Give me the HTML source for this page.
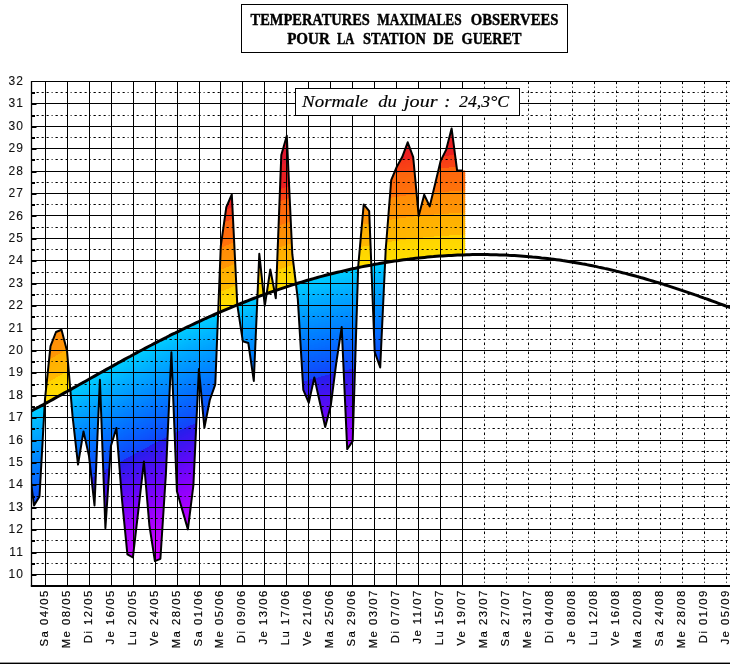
<!DOCTYPE html>
<html><head><meta charset="utf-8"><title>Temperatures maximales observees - Gueret</title>
<style>html,body{margin:0;padding:0;background:#fff}body{width:730px;height:664px;overflow:hidden}svg{display:block}.ax{font-family:"Liberation Sans",sans-serif;font-size:12px;letter-spacing:1.1px;fill:#111;stroke:#111;stroke-width:0.1px}.xl{font-family:"Liberation Sans",sans-serif;font-size:11.3px;letter-spacing:1.5px;fill:#000;stroke:#000;stroke-width:0.2px}.tt{font-family:"Liberation Serif",serif;font-weight:bold;font-size:17px;fill:#000;stroke:#000;stroke-width:0.45px}.nm{font-family:"Liberation Serif",serif;font-style:italic;font-size:16.5px;fill:#000;stroke:#000;stroke-width:0.15px}</style></head><body>
<svg width="730" height="664" viewBox="0 0 730 664">
<rect width="730" height="664" fill="#fff"/>
<defs><polygon id="b" points="26,413.7 32,410.6 38,407.4 44,404.2 50,401 56,397.7 62,394.3 68,391 74,387.6 80,384.3 86,380.9 92,377.5 98,374.1 104,370.8 110,367.4 116,364.1 122,360.8 128,357.5 134,354.3 140,351.1 146,347.9 152,344.7 158,341.6 164,338.5 170,335.5 176,332.5 182,329.6 188,326.7 194,323.8 200,321 206,318.3 212,315.6 218,313 224,310.4 230,307.9 236,305.4 242,303 248,300.6 254,298.3 260,296.1 266,293.9 272,291.7 278,289.7 284,287.7 290,285.7 296,283.8 302,282 308,280.2 314,278.5 320,276.8 326,275.2 332,273.7 338,272.2 344,270.7 350,269.4 356,268.1 362,266.8 368,265.6 374,264.5 380,263.4 386,262.4 392,261.5 398,260.6 404,259.8 410,259 416,258.3 422,257.6 428,257.1 434,256.5 440,256.1 446,255.7 452,255.3 458,255.1 464,254.8 470,254.7 470,257.7 464,257.8 458,258.1 452,258.3 446,258.7 440,259.1 434,259.5 428,260.1 422,260.6 416,261.3 410,262 404,262.8 398,263.6 392,264.5 386,265.4 380,266.4 374,267.5 368,268.6 362,269.8 356,271.1 350,272.4 344,273.7 338,275.2 332,276.7 326,278.2 320,279.8 314,281.5 308,283.2 302,285 296,286.8 290,288.7 284,290.7 278,292.7 272,294.7 266,296.9 260,299.1 254,301.3 248,303.6 242,306 236,308.4 230,310.9 224,313.4 218,316 212,318.6 206,321.3 200,324 194,326.8 188,329.7 182,332.6 176,335.5 170,338.5 164,341.5 158,344.6 152,347.7 146,350.9 140,354.1 134,357.3 128,360.5 122,363.8 116,367.1 110,370.4 104,373.8 98,377.1 92,380.5 86,383.9 80,387.3 74,390.6 68,394 62,397.3 56,400.7 50,404 44,407.2 38,410.4 32,413.6 26,416.7"/>
<clipPath id="cf"><polygon points="28.5,462.8 34,505.4 39.5,496.5 45,398.9 50.5,346.2 56,332 61.5,329.8 67,350.7 72.5,415.7 78,464.6 83.5,431.4 89,456.1 94.5,505.4 99.9,379.8 105.4,528.1 110.9,446 116.4,428 121.9,498.7 127.4,554.3 132.9,557.5 138.4,509.9 143.9,461.5 149.4,525.6 154.9,561.1 160.4,558.8 165.9,474 171.4,352.2 176.9,491.3 182.4,510.4 187.9,529.4 193.4,485.2 198.9,369.1 204.4,427.8 209.8,400 215.3,384.3 220.8,245.9 226.3,207.1 231.8,194.5 237.3,304.9 242.8,341.2 248.3,343 253.8,380.9 259.3,253.8 264.8,305.8 270.3,269.5 275.8,298.2 281.3,155.1 286.8,135.8 292.3,254.2 297.8,299.1 303.3,389.9 308.8,402.9 314.3,377.4 319.8,402.2 325.2,427.1 330.7,406.1 336.2,363.4 341.7,327.1 347.2,449.1 352.7,441.1 358.2,266.5 363.7,204.4 369.2,211.1 374.7,352 380.2,367.5 385.7,249.7 391.2,180.2 396.7,167 402.2,157.1 407.7,142.3 413.2,157.1 418.7,216.1 424.2,194.8 429.7,206.4 435.1,184 440.6,160.9 446.1,149.9 451.6,128.4 457.1,170.5 462.6,170.5 465.2,170.5 465.2,254.8 461.2,254.9 457.2,255.1 453.2,255.3 449.2,255.5 445.2,255.7 441.2,256 437.2,256.3 433.2,256.6 429.2,256.9 425.2,257.3 421.2,257.7 417.2,258.2 413.2,258.6 409.2,259.1 405.2,259.6 401.2,260.1 397.2,260.7 393.2,261.3 389.2,261.9 385.2,262.6 381.2,263.2 377.2,263.9 373.2,264.7 369.2,265.4 365.2,266.2 361.2,267 357.2,267.8 353.2,268.7 349.2,269.6 345.2,270.5 341.2,271.4 337.2,272.4 333.2,273.4 329.2,274.4 325.2,275.4 321.2,276.5 317.2,277.6 313.2,278.7 309.2,279.8 305.2,281 301.2,282.2 297.2,283.4 293.2,284.7 289.2,286 285.2,287.3 281.2,288.6 277.2,289.9 273.2,291.3 269.2,292.7 265.2,294.2 261.2,295.6 257.2,297.1 253.2,298.6 249.2,300.1 245.2,301.7 241.2,303.3 237.2,304.9 233.2,306.5 229.2,308.2 225.2,309.9 221.2,311.6 217.2,313.3 213.2,315.1 209.2,316.9 205.2,318.7 201.2,320.5 197.2,322.3 193.2,324.2 189.2,326.1 185.2,328 181.2,330 177.2,331.9 173.2,333.9 169.2,335.9 165.2,337.9 161.2,340 157.2,342 153.2,344.1 149.2,346.2 145.2,348.3 141.2,350.4 137.2,352.6 133.2,354.7 129.2,356.9 125.2,359.1 121.2,361.2 117.2,363.5 113.2,365.7 109.2,367.9 105.2,370.1 101.2,372.4 97.2,374.6 93.2,376.8 89.2,379.1 85.2,381.3 81.2,383.6 77.2,385.8 73.2,388.1 69.2,390.3 65.2,392.6 61.2,394.8 57.2,397 53.2,399.2 49.2,401.4 45.2,403.6 41.2,405.7 37.2,407.9 33.2,410 29.2,412.1 25.2,414.1"/></clipPath>
<clipPath id="cp"><rect x="31.5" y="81.5" width="698.5" height="504.27"/></clipPath></defs>
<g clip-path="url(#cp)"><g clip-path="url(#cf)" shape-rendering="crispEdges">
<use href="#b" y="-170" fill="#d30e3b"/>
<use href="#b" y="-168" fill="#d30e3b"/>
<use href="#b" y="-166" fill="#d30e3b"/>
<use href="#b" y="-164" fill="#d30f3b"/>
<use href="#b" y="-162" fill="#d30f3b"/>
<use href="#b" y="-160" fill="#d30f3b"/>
<use href="#b" y="-158" fill="#d30f3b"/>
<use href="#b" y="-156" fill="#d30f3b"/>
<use href="#b" y="-154" fill="#d40f3a"/>
<use href="#b" y="-152" fill="#d40f3a"/>
<use href="#b" y="-150" fill="#d40f3a"/>
<use href="#b" y="-148" fill="#d40f3a"/>
<use href="#b" y="-146" fill="#dd1631"/>
<use href="#b" y="-144" fill="#de1630"/>
<use href="#b" y="-142" fill="#de1730"/>
<use href="#b" y="-140" fill="#de1730"/>
<use href="#b" y="-138" fill="#df172f"/>
<use href="#b" y="-136" fill="#df172f"/>
<use href="#b" y="-134" fill="#df182f"/>
<use href="#b" y="-132" fill="#e0182e"/>
<use href="#b" y="-130" fill="#e0182e"/>
<use href="#b" y="-128" fill="#e0192e"/>
<use href="#b" y="-126" fill="#e1192d"/>
<use href="#b" y="-124" fill="#e91e24"/>
<use href="#b" y="-122" fill="#e91e24"/>
<use href="#b" y="-120" fill="#e91e23"/>
<use href="#b" y="-118" fill="#ea1e23"/>
<use href="#b" y="-116" fill="#ea1f23"/>
<use href="#b" y="-114" fill="#ea1f22"/>
<use href="#b" y="-112" fill="#ea1f22"/>
<use href="#b" y="-110" fill="#eb1f22"/>
<use href="#b" y="-108" fill="#eb1f21"/>
<use href="#b" y="-106" fill="#eb2021"/>
<use href="#b" y="-104" fill="#ec2021"/>
<use href="#b" y="-102" fill="#ec2020"/>
<use href="#b" y="-100" fill="#f63a17"/>
<use href="#b" y="-98" fill="#f73c17"/>
<use href="#b" y="-96" fill="#f83e16"/>
<use href="#b" y="-94" fill="#f84015"/>
<use href="#b" y="-92" fill="#f94215"/>
<use href="#b" y="-90" fill="#fa4414"/>
<use href="#b" y="-88" fill="#fe650d"/>
<use href="#b" y="-86" fill="#fe660d"/>
<use href="#b" y="-84" fill="#fe670c"/>
<use href="#b" y="-82" fill="#fe690c"/>
<use href="#b" y="-80" fill="#fe6a0c"/>
<use href="#b" y="-78" fill="#fe6b0c"/>
<use href="#b" y="-76" fill="#fe6c0b"/>
<use href="#b" y="-74" fill="#fe6d0b"/>
<use href="#b" y="-72" fill="#ff6e0b"/>
<use href="#b" y="-70" fill="#ff700b"/>
<use href="#b" y="-68" fill="#ff710a"/>
<use href="#b" y="-66" fill="#ff720a"/>
<use href="#b" y="-64" fill="#ff8c06"/>
<use href="#b" y="-62" fill="#ff8d06"/>
<use href="#b" y="-60" fill="#ff8e06"/>
<use href="#b" y="-58" fill="#ff8f06"/>
<use href="#b" y="-56" fill="#ff9006"/>
<use href="#b" y="-54" fill="#ff9106"/>
<use href="#b" y="-52" fill="#ff9206"/>
<use href="#b" y="-50" fill="#ff9305"/>
<use href="#b" y="-48" fill="#ff9405"/>
<use href="#b" y="-46" fill="#ff9505"/>
<use href="#b" y="-44" fill="#ff9605"/>
<use href="#b" y="-42" fill="#ffaf01"/>
<use href="#b" y="-40" fill="#ffaf01"/>
<use href="#b" y="-38" fill="#ffb001"/>
<use href="#b" y="-36" fill="#ffb101"/>
<use href="#b" y="-34" fill="#ffb201"/>
<use href="#b" y="-32" fill="#ffb301"/>
<use href="#b" y="-30" fill="#ffb401"/>
<use href="#b" y="-28" fill="#ffb500"/>
<use href="#b" y="-26" fill="#ffb600"/>
<use href="#b" y="-24" fill="#ffb700"/>
<use href="#b" y="-22" fill="#ffb800"/>
<use href="#b" y="-20" fill="#ffd300"/>
<use href="#b" y="-18" fill="#ffd400"/>
<use href="#b" y="-16" fill="#ffd600"/>
<use href="#b" y="-14" fill="#ffd700"/>
<use href="#b" y="-12" fill="#ffd800"/>
<use href="#b" y="-10" fill="#ffd900"/>
<use href="#b" y="-8" fill="#ffda00"/>
<use href="#b" y="-6" fill="#ffdb00"/>
<use href="#b" y="-4" fill="#ffdc00"/>
<use href="#b" y="-2" fill="#ffdd00"/>
<use href="#b" y="0" fill="#00ccff"/>
<use href="#b" y="2" fill="#00c9ff"/>
<use href="#b" y="4" fill="#00c6ff"/>
<use href="#b" y="6" fill="#00c3ff"/>
<use href="#b" y="8" fill="#00c0ff"/>
<use href="#b" y="10" fill="#00bdff"/>
<use href="#b" y="12" fill="#00baff"/>
<use href="#b" y="14" fill="#00b7ff"/>
<use href="#b" y="16" fill="#00b4ff"/>
<use href="#b" y="18" fill="#00b1ff"/>
<use href="#b" y="20" fill="#00aeff"/>
<use href="#b" y="22" fill="#00abff"/>
<use href="#b" y="24" fill="#00a9ff"/>
<use href="#b" y="26" fill="#00a6ff"/>
<use href="#b" y="28" fill="#00a3ff"/>
<use href="#b" y="30" fill="#00a1ff"/>
<use href="#b" y="32" fill="#009eff"/>
<use href="#b" y="34" fill="#009bff"/>
<use href="#b" y="36" fill="#0098ff"/>
<use href="#b" y="38" fill="#0096ff"/>
<use href="#b" y="40" fill="#0093ff"/>
<use href="#b" y="42" fill="#0090ff"/>
<use href="#b" y="44" fill="#008eff"/>
<use href="#b" y="46" fill="#008bff"/>
<use href="#b" y="48" fill="#0188ff"/>
<use href="#b" y="50" fill="#0186ff"/>
<use href="#b" y="52" fill="#0183ff"/>
<use href="#b" y="54" fill="#0180ff"/>
<use href="#b" y="56" fill="#027eff"/>
<use href="#b" y="58" fill="#027bff"/>
<use href="#b" y="60" fill="#0278ff"/>
<use href="#b" y="62" fill="#0276ff"/>
<use href="#b" y="64" fill="#0373ff"/>
<use href="#b" y="66" fill="#0370ff"/>
<use href="#b" y="68" fill="#046eff"/>
<use href="#b" y="70" fill="#056bfe"/>
<use href="#b" y="72" fill="#0568fe"/>
<use href="#b" y="74" fill="#0666fe"/>
<use href="#b" y="76" fill="#0763fe"/>
<use href="#b" y="78" fill="#0860fd"/>
<use href="#b" y="80" fill="#095efd"/>
<use href="#b" y="82" fill="#095bfd"/>
<use href="#b" y="84" fill="#0a58fd"/>
<use href="#b" y="86" fill="#0b56fc"/>
<use href="#b" y="88" fill="#0c53fc"/>
<use href="#b" y="90" fill="#0d50fc"/>
<use href="#b" y="92" fill="#0e4dfb"/>
<use href="#b" y="94" fill="#104afb"/>
<use href="#b" y="96" fill="#1148fb"/>
<use href="#b" y="98" fill="#1345fa"/>
<use href="#b" y="100" fill="#261eec"/>
<use href="#b" y="102" fill="#2a1ded"/>
<use href="#b" y="104" fill="#2d1bed"/>
<use href="#b" y="106" fill="#301aee"/>
<use href="#b" y="108" fill="#3419ef"/>
<use href="#b" y="110" fill="#3717f0"/>
<use href="#b" y="112" fill="#3b16f0"/>
<use href="#b" y="114" fill="#3e15f1"/>
<use href="#b" y="116" fill="#4113f2"/>
<use href="#b" y="118" fill="#4512f2"/>
<use href="#b" y="120" fill="#4811f3"/>
<use href="#b" y="122" fill="#4c10f4"/>
<use href="#b" y="124" fill="#4f0ef5"/>
<use href="#b" y="126" fill="#520df5"/>
<use href="#b" y="128" fill="#560cf6"/>
<use href="#b" y="130" fill="#590af7"/>
<use href="#b" y="132" fill="#5d09f7"/>
<use href="#b" y="134" fill="#6008f8"/>
<use href="#b" y="136" fill="#6407f8"/>
<use href="#b" y="138" fill="#6706f9"/>
<use href="#b" y="140" fill="#6b06f9"/>
<use href="#b" y="142" fill="#6e05fa"/>
<use href="#b" y="144" fill="#7204fa"/>
<use href="#b" y="146" fill="#7504fa"/>
<use href="#b" y="148" fill="#7903fb"/>
<use href="#b" y="150" fill="#7c02fb"/>
<use href="#b" y="152" fill="#8001fb"/>
<use href="#b" y="154" fill="#8401fc"/>
<use href="#b" y="156" fill="#8700fc"/>
<use href="#b" y="158" fill="#8a00fc"/>
<use href="#b" y="160" fill="#8d00fd"/>
<use href="#b" y="162" fill="#9000fd"/>
<use href="#b" y="164" fill="#9300fd"/>
<use href="#b" y="166" fill="#9600fd"/>
<use href="#b" y="168" fill="#9900fe"/>
<use href="#b" y="170" fill="#9c00fe"/>
<use href="#b" y="172" fill="#9f00fe"/>
<use href="#b" y="174" fill="#a200fe"/>
<use href="#b" y="176" fill="#a500ff"/>
<use href="#b" y="178" fill="#a800ff"/>
<use href="#b" y="180" fill="#aa00ff"/>
<use href="#b" y="182" fill="#ad00ff"/>
<use href="#b" y="184" fill="#b000ff"/>
<use href="#b" y="186" fill="#b200ff"/>
<use href="#b" y="188" fill="#b500ff"/>
<use href="#b" y="190" fill="#b800ff"/>
<use href="#b" y="192" fill="#ba00ff"/>
<use href="#b" y="194" fill="#bd00ff"/>
<use href="#b" y="196" fill="#c000ff"/>
<use href="#b" y="198" fill="#c200ff"/>
<use href="#b" y="200" fill="#c500ff"/>
<use href="#b" y="202" fill="#c700ff"/>
<use href="#b" y="204" fill="#c900ff"/>
<use href="#b" y="206" fill="#cb00ff"/>
<use href="#b" y="208" fill="#cd00ff"/>
<use href="#b" y="210" fill="#ce00ff"/>
<use href="#b" y="212" fill="#d000ff"/>
<use href="#b" y="214" fill="#d200ff"/>
<use href="#b" y="216" fill="#d400ff"/>
<use href="#b" y="218" fill="#d500ff"/>
<use href="#b" y="220" fill="#d700ff"/>
<use href="#b" y="222" fill="#d900ff"/>
<use href="#b" y="224" fill="#da00ff"/>
<use href="#b" y="226" fill="#db00ff"/>
<use href="#b" y="228" fill="#dc00ff"/>
<use href="#b" y="230" fill="#dd00ff"/>
<use href="#b" y="232" fill="#de00ff"/>
<use href="#b" y="234" fill="#e000ff"/>
<use href="#b" y="236" fill="#e100ff"/>
<use href="#b" y="238" fill="#e200ff"/>
<use href="#b" y="240" fill="#e300ff"/>
<use href="#b" y="242" fill="#e400ff"/>
<use href="#b" y="244" fill="#e500ff"/>
<use href="#b" y="246" fill="#e600ff"/>
<use href="#b" y="248" fill="#e700ff"/>
<use href="#b" y="250" fill="#e800ff"/>
<use href="#b" y="252" fill="#e900ff"/>
<use href="#b" y="254" fill="#ea00ff"/>
<use href="#b" y="256" fill="#eb00ff"/>
<use href="#b" y="258" fill="#eb00ff"/>
</g></g>
<g><line x1="31.5" x2="730" y1="574.5" y2="574.5" stroke="#000" stroke-width="1"/><line x1="35.5" x2="730" y1="563.5" y2="563.5" stroke="#000" stroke-width="1" stroke-dasharray="2.3 2.8 2.1 2.9 2.1 2.9 1 2.9" stroke-dashoffset="-1"/><line x1="31.5" x2="730" y1="552.5" y2="552.5" stroke="#000" stroke-width="1"/><line x1="35.5" x2="730" y1="540.5" y2="540.5" stroke="#000" stroke-width="1" stroke-dasharray="2.3 2.8 2.1 2.9 2.1 2.9 1 2.9" stroke-dashoffset="-1"/><line x1="31.5" x2="730" y1="529.5" y2="529.5" stroke="#000" stroke-width="1"/><line x1="35.5" x2="730" y1="518.5" y2="518.5" stroke="#000" stroke-width="1" stroke-dasharray="2.3 2.8 2.1 2.9 2.1 2.9 1 2.9" stroke-dashoffset="-1"/><line x1="31.5" x2="730" y1="507.5" y2="507.5" stroke="#000" stroke-width="1"/><line x1="35.5" x2="730" y1="496.5" y2="496.5" stroke="#000" stroke-width="1" stroke-dasharray="2.3 2.8 2.1 2.9 2.1 2.9 1 2.9" stroke-dashoffset="-1"/><line x1="31.5" x2="730" y1="484.5" y2="484.5" stroke="#000" stroke-width="1"/><line x1="35.5" x2="730" y1="473.5" y2="473.5" stroke="#000" stroke-width="1" stroke-dasharray="2.3 2.8 2.1 2.9 2.1 2.9 1 2.9" stroke-dashoffset="-1"/><line x1="31.5" x2="730" y1="462.5" y2="462.5" stroke="#000" stroke-width="1"/><line x1="35.5" x2="730" y1="451.5" y2="451.5" stroke="#000" stroke-width="1" stroke-dasharray="2.3 2.8 2.1 2.9 2.1 2.9 1 2.9" stroke-dashoffset="-1"/><line x1="31.5" x2="730" y1="440.5" y2="440.5" stroke="#000" stroke-width="1"/><line x1="35.5" x2="730" y1="428.5" y2="428.5" stroke="#000" stroke-width="1" stroke-dasharray="2.3 2.8 2.1 2.9 2.1 2.9 1 2.9" stroke-dashoffset="-1"/><line x1="31.5" x2="730" y1="417.5" y2="417.5" stroke="#000" stroke-width="1"/><line x1="35.5" x2="730" y1="406.5" y2="406.5" stroke="#000" stroke-width="1" stroke-dasharray="2.3 2.8 2.1 2.9 2.1 2.9 1 2.9" stroke-dashoffset="-1"/><line x1="31.5" x2="730" y1="395.5" y2="395.5" stroke="#000" stroke-width="1"/><line x1="35.5" x2="730" y1="384.5" y2="384.5" stroke="#000" stroke-width="1" stroke-dasharray="2.3 2.8 2.1 2.9 2.1 2.9 1 2.9" stroke-dashoffset="-1"/><line x1="31.5" x2="730" y1="372.5" y2="372.5" stroke="#000" stroke-width="1"/><line x1="35.5" x2="730" y1="361.5" y2="361.5" stroke="#000" stroke-width="1" stroke-dasharray="2.3 2.8 2.1 2.9 2.1 2.9 1 2.9" stroke-dashoffset="-1"/><line x1="31.5" x2="730" y1="350.5" y2="350.5" stroke="#000" stroke-width="1"/><line x1="35.5" x2="730" y1="339.5" y2="339.5" stroke="#000" stroke-width="1" stroke-dasharray="2.3 2.8 2.1 2.9 2.1 2.9 1 2.9" stroke-dashoffset="-1"/><line x1="31.5" x2="730" y1="328.5" y2="328.5" stroke="#000" stroke-width="1"/><line x1="35.5" x2="730" y1="316.5" y2="316.5" stroke="#000" stroke-width="1" stroke-dasharray="2.3 2.8 2.1 2.9 2.1 2.9 1 2.9" stroke-dashoffset="-1"/><line x1="31.5" x2="730" y1="305.5" y2="305.5" stroke="#000" stroke-width="1"/><line x1="35.5" x2="730" y1="294.5" y2="294.5" stroke="#000" stroke-width="1" stroke-dasharray="2.3 2.8 2.1 2.9 2.1 2.9 1 2.9" stroke-dashoffset="-1"/><line x1="31.5" x2="730" y1="283.5" y2="283.5" stroke="#000" stroke-width="1"/><line x1="35.5" x2="730" y1="272.5" y2="272.5" stroke="#000" stroke-width="1" stroke-dasharray="2.3 2.8 2.1 2.9 2.1 2.9 1 2.9" stroke-dashoffset="-1"/><line x1="31.5" x2="730" y1="260.5" y2="260.5" stroke="#000" stroke-width="1"/><line x1="35.5" x2="730" y1="249.5" y2="249.5" stroke="#000" stroke-width="1" stroke-dasharray="2.3 2.8 2.1 2.9 2.1 2.9 1 2.9" stroke-dashoffset="-1"/><line x1="31.5" x2="730" y1="238.5" y2="238.5" stroke="#000" stroke-width="1"/><line x1="35.5" x2="730" y1="227.5" y2="227.5" stroke="#000" stroke-width="1" stroke-dasharray="2.3 2.8 2.1 2.9 2.1 2.9 1 2.9" stroke-dashoffset="-1"/><line x1="31.5" x2="730" y1="215.5" y2="215.5" stroke="#000" stroke-width="1"/><line x1="35.5" x2="730" y1="204.5" y2="204.5" stroke="#000" stroke-width="1" stroke-dasharray="2.3 2.8 2.1 2.9 2.1 2.9 1 2.9" stroke-dashoffset="-1"/><line x1="31.5" x2="730" y1="193.5" y2="193.5" stroke="#000" stroke-width="1"/><line x1="35.5" x2="730" y1="182.5" y2="182.5" stroke="#000" stroke-width="1" stroke-dasharray="2.3 2.8 2.1 2.9 2.1 2.9 1 2.9" stroke-dashoffset="-1"/><line x1="31.5" x2="730" y1="171.5" y2="171.5" stroke="#000" stroke-width="1"/><line x1="35.5" x2="730" y1="159.5" y2="159.5" stroke="#000" stroke-width="1" stroke-dasharray="2.3 2.8 2.1 2.9 2.1 2.9 1 2.9" stroke-dashoffset="-1"/><line x1="31.5" x2="730" y1="148.5" y2="148.5" stroke="#000" stroke-width="1"/><line x1="35.5" x2="730" y1="137.5" y2="137.5" stroke="#000" stroke-width="1" stroke-dasharray="2.3 2.8 2.1 2.9 2.1 2.9 1 2.9" stroke-dashoffset="-1"/><line x1="31.5" x2="730" y1="126.5" y2="126.5" stroke="#000" stroke-width="1"/><line x1="35.5" x2="730" y1="115.5" y2="115.5" stroke="#000" stroke-width="1" stroke-dasharray="2.3 2.8 2.1 2.9 2.1 2.9 1 2.9" stroke-dashoffset="-1"/><line x1="31.5" x2="730" y1="103.5" y2="103.5" stroke="#000" stroke-width="1"/><line x1="35.5" x2="730" y1="92.5" y2="92.5" stroke="#000" stroke-width="1" stroke-dasharray="2.3 2.8 2.1 2.9 2.1 2.9 1 2.9" stroke-dashoffset="-1"/><line x1="31.5" x2="730" y1="81.5" y2="81.5" stroke="#000" stroke-width="1"/><line x1="45.5" x2="45.5" y1="81.5" y2="585.8" stroke="#000" stroke-width="1"/><line x1="67.5" x2="67.5" y1="81.5" y2="585.8" stroke="#000" stroke-width="1"/><line x1="89.5" x2="89.5" y1="81.5" y2="585.8" stroke="#000" stroke-width="1"/><line x1="111.5" x2="111.5" y1="81.5" y2="585.8" stroke="#000" stroke-width="1"/><line x1="133.5" x2="133.5" y1="81.5" y2="585.8" stroke="#000" stroke-width="1"/><line x1="155.5" x2="155.5" y1="81.5" y2="585.8" stroke="#000" stroke-width="1"/><line x1="177.5" x2="177.5" y1="81.5" y2="585.8" stroke="#000" stroke-width="1"/><line x1="199.5" x2="199.5" y1="81.5" y2="585.8" stroke="#000" stroke-width="1"/><line x1="220.5" x2="220.5" y1="81.5" y2="585.8" stroke="#000" stroke-width="1"/><line x1="242.5" x2="242.5" y1="81.5" y2="585.8" stroke="#000" stroke-width="1"/><line x1="264.5" x2="264.5" y1="81.5" y2="585.8" stroke="#000" stroke-width="1"/><line x1="286.5" x2="286.5" y1="81.5" y2="585.8" stroke="#000" stroke-width="1"/><line x1="308.5" x2="308.5" y1="81.5" y2="585.8" stroke="#000" stroke-width="1"/><line x1="330.5" x2="330.5" y1="81.5" y2="585.8" stroke="#000" stroke-width="1"/><line x1="352.5" x2="352.5" y1="81.5" y2="585.8" stroke="#000" stroke-width="1"/><line x1="374.5" x2="374.5" y1="81.5" y2="585.8" stroke="#000" stroke-width="1"/><line x1="396.5" x2="396.5" y1="81.5" y2="585.8" stroke="#000" stroke-width="1"/><line x1="418.5" x2="418.5" y1="81.5" y2="585.8" stroke="#000" stroke-width="1"/><line x1="440.5" x2="440.5" y1="81.5" y2="585.8" stroke="#000" stroke-width="1"/><line x1="462.5" x2="462.5" y1="81.5" y2="585.8" stroke="#000" stroke-width="1"/><line x1="484.5" x2="484.5" y1="81.5" y2="585.8" stroke="#000" stroke-width="1" stroke-dasharray="2.6 2.6 1 2.8"/><line x1="506.5" x2="506.5" y1="81.5" y2="585.8" stroke="#000" stroke-width="1" stroke-dasharray="2.6 2.6 1 2.8"/><line x1="528.5" x2="528.5" y1="81.5" y2="585.8" stroke="#000" stroke-width="1" stroke-dasharray="2.6 2.6 1 2.8"/><line x1="550.5" x2="550.5" y1="81.5" y2="585.8" stroke="#000" stroke-width="1" stroke-dasharray="2.6 2.6 1 2.8"/><line x1="572.5" x2="572.5" y1="81.5" y2="585.8" stroke="#000" stroke-width="1" stroke-dasharray="2.6 2.6 1 2.8"/><line x1="594.5" x2="594.5" y1="81.5" y2="585.8" stroke="#000" stroke-width="1" stroke-dasharray="2.6 2.6 1 2.8"/><line x1="616.5" x2="616.5" y1="81.5" y2="585.8" stroke="#000" stroke-width="1" stroke-dasharray="2.6 2.6 1 2.8"/><line x1="638.5" x2="638.5" y1="81.5" y2="585.8" stroke="#000" stroke-width="1" stroke-dasharray="2.6 2.6 1 2.8"/><line x1="660.5" x2="660.5" y1="81.5" y2="585.8" stroke="#000" stroke-width="1" stroke-dasharray="2.6 2.6 1 2.8"/><line x1="682.5" x2="682.5" y1="81.5" y2="585.8" stroke="#000" stroke-width="1" stroke-dasharray="2.6 2.6 1 2.8"/><line x1="704.5" x2="704.5" y1="81.5" y2="585.8" stroke="#000" stroke-width="1" stroke-dasharray="2.6 2.6 1 2.8"/><line x1="726.5" x2="726.5" y1="81.5" y2="585.8" stroke="#000" stroke-width="1" stroke-dasharray="2.6 2.6 1 2.8"/></g>
<line x1="31.5" x2="31.5" y1="81.0" y2="585.8" stroke="#000" stroke-width="1.3"/>
<line x1="30.8" x2="730" y1="586" y2="586" stroke="#000" stroke-width="2.2"/>
<g><line x1="31.5" x2="36.5" y1="575" y2="575" stroke="#000" stroke-width="2"/><line x1="31.5" x2="35.0" y1="564" y2="564" stroke="#000" stroke-width="2"/><line x1="31.5" x2="36.5" y1="553" y2="553" stroke="#000" stroke-width="2"/><line x1="31.5" x2="35.0" y1="541" y2="541" stroke="#000" stroke-width="2"/><line x1="31.5" x2="36.5" y1="530" y2="530" stroke="#000" stroke-width="2"/><line x1="31.5" x2="35.0" y1="519" y2="519" stroke="#000" stroke-width="2"/><line x1="31.5" x2="36.5" y1="508" y2="508" stroke="#000" stroke-width="2"/><line x1="31.5" x2="35.0" y1="497" y2="497" stroke="#000" stroke-width="2"/><line x1="31.5" x2="36.5" y1="485" y2="485" stroke="#000" stroke-width="2"/><line x1="31.5" x2="35.0" y1="474" y2="474" stroke="#000" stroke-width="2"/><line x1="31.5" x2="36.5" y1="463" y2="463" stroke="#000" stroke-width="2"/><line x1="31.5" x2="35.0" y1="452" y2="452" stroke="#000" stroke-width="2"/><line x1="31.5" x2="36.5" y1="441" y2="441" stroke="#000" stroke-width="2"/><line x1="31.5" x2="35.0" y1="429" y2="429" stroke="#000" stroke-width="2"/><line x1="31.5" x2="36.5" y1="418" y2="418" stroke="#000" stroke-width="2"/><line x1="31.5" x2="35.0" y1="407" y2="407" stroke="#000" stroke-width="2"/><line x1="31.5" x2="36.5" y1="396" y2="396" stroke="#000" stroke-width="2"/><line x1="31.5" x2="35.0" y1="385" y2="385" stroke="#000" stroke-width="2"/><line x1="31.5" x2="36.5" y1="373" y2="373" stroke="#000" stroke-width="2"/><line x1="31.5" x2="35.0" y1="362" y2="362" stroke="#000" stroke-width="2"/><line x1="31.5" x2="36.5" y1="351" y2="351" stroke="#000" stroke-width="2"/><line x1="31.5" x2="35.0" y1="340" y2="340" stroke="#000" stroke-width="2"/><line x1="31.5" x2="36.5" y1="329" y2="329" stroke="#000" stroke-width="2"/><line x1="31.5" x2="35.0" y1="317" y2="317" stroke="#000" stroke-width="2"/><line x1="31.5" x2="36.5" y1="306" y2="306" stroke="#000" stroke-width="2"/><line x1="31.5" x2="35.0" y1="295" y2="295" stroke="#000" stroke-width="2"/><line x1="31.5" x2="36.5" y1="284" y2="284" stroke="#000" stroke-width="2"/><line x1="31.5" x2="35.0" y1="273" y2="273" stroke="#000" stroke-width="2"/><line x1="31.5" x2="36.5" y1="261" y2="261" stroke="#000" stroke-width="2"/><line x1="31.5" x2="35.0" y1="250" y2="250" stroke="#000" stroke-width="2"/><line x1="31.5" x2="36.5" y1="239" y2="239" stroke="#000" stroke-width="2"/><line x1="31.5" x2="35.0" y1="228" y2="228" stroke="#000" stroke-width="2"/><line x1="31.5" x2="36.5" y1="216" y2="216" stroke="#000" stroke-width="2"/><line x1="31.5" x2="35.0" y1="205" y2="205" stroke="#000" stroke-width="2"/><line x1="31.5" x2="36.5" y1="194" y2="194" stroke="#000" stroke-width="2"/><line x1="31.5" x2="35.0" y1="183" y2="183" stroke="#000" stroke-width="2"/><line x1="31.5" x2="36.5" y1="172" y2="172" stroke="#000" stroke-width="2"/><line x1="31.5" x2="35.0" y1="160" y2="160" stroke="#000" stroke-width="2"/><line x1="31.5" x2="36.5" y1="149" y2="149" stroke="#000" stroke-width="2"/><line x1="31.5" x2="35.0" y1="138" y2="138" stroke="#000" stroke-width="2"/><line x1="31.5" x2="36.5" y1="127" y2="127" stroke="#000" stroke-width="2"/><line x1="31.5" x2="35.0" y1="116" y2="116" stroke="#000" stroke-width="2"/><line x1="31.5" x2="36.5" y1="104" y2="104" stroke="#000" stroke-width="2"/><line x1="31.5" x2="35.0" y1="93" y2="93" stroke="#000" stroke-width="2"/></g>
<polyline points="31.5,410.9 34.5,409.3 37.5,407.7 40.5,406.1 43.5,404.5 46.5,402.9 49.5,401.2 52.5,399.6 55.5,397.9 58.5,396.3 61.5,394.6 64.5,392.9 67.5,391.3 70.5,389.6 73.5,387.9 76.5,386.2 79.5,384.5 82.5,382.9 85.5,381.2 88.5,379.5 91.5,377.8 94.5,376.1 97.5,374.4 100.5,372.7 103.5,371.1 106.5,369.4 109.5,367.7 112.5,366.1 115.5,364.4 118.5,362.7 121.5,361.1 124.5,359.4 127.5,357.8 130.5,356.2 133.5,354.5 136.5,352.9 139.5,351.3 142.5,349.7 145.5,348.1 148.5,346.5 151.5,345 154.5,343.4 157.5,341.9 160.5,340.3 163.5,338.8 166.5,337.3 169.5,335.7 172.5,334.2 175.5,332.8 178.5,331.3 181.5,329.8 184.5,328.4 187.5,326.9 190.5,325.5 193.5,324.1 196.5,322.7 199.5,321.3 202.5,319.9 205.5,318.5 208.5,317.2 211.5,315.8 214.5,314.5 217.5,313.2 220.5,311.9 223.5,310.6 226.5,309.3 229.5,308.1 232.5,306.8 235.5,305.6 238.5,304.4 241.5,303.2 244.5,302 247.5,300.8 250.5,299.6 253.5,298.5 256.5,297.4 259.5,296.2 262.5,295.1 265.5,294.1 268.5,293 271.5,291.9 274.5,290.9 277.5,289.8 280.5,288.8 283.5,287.8 286.5,286.8 289.5,285.9 292.5,284.9 295.5,284 298.5,283 301.5,282.1 304.5,281.2 307.5,280.3 310.5,279.5 313.5,278.6 316.5,277.8 319.5,276.9 322.5,276.1 325.5,275.3 328.5,274.5 331.5,273.8 334.5,273 337.5,272.3 340.5,271.6 343.5,270.9 346.5,270.2 349.5,269.5 352.5,268.8 355.5,268.2 358.5,267.5 361.5,266.9 364.5,266.3 367.5,265.7 370.5,265.2 373.5,264.6 376.5,264.1 379.5,263.5 382.5,263 385.5,262.5 388.5,262 391.5,261.6 394.5,261.1 397.5,260.7 400.5,260.2 403.5,259.8 406.5,259.4 409.5,259.1 412.5,258.7 415.5,258.3 418.5,258 421.5,257.7 424.5,257.4 427.5,257.1 430.5,256.8 433.5,256.6 436.5,256.3 439.5,256.1 442.5,255.9 445.5,255.7 448.5,255.5 451.5,255.4 454.5,255.2 457.5,255.1 460.5,255 463.5,254.9 466.5,254.8 469.5,254.7 472.5,254.6 475.5,254.6 478.5,254.6 481.5,254.6 484.5,254.6 487.5,254.6 490.5,254.7 493.5,254.7 496.5,254.8 499.5,254.9 502.5,255 505.5,255.1 508.5,255.3 511.5,255.4 514.5,255.6 517.5,255.8 520.5,256 523.5,256.2 526.5,256.4 529.5,256.7 532.5,257 535.5,257.2 538.5,257.5 541.5,257.9 544.5,258.2 547.5,258.5 550.5,258.9 553.5,259.3 556.5,259.7 559.5,260.1 562.5,260.6 565.5,261 568.5,261.5 571.5,262 574.5,262.5 577.5,263 580.5,263.5 583.5,264.1 586.5,264.6 589.5,265.2 592.5,265.8 595.5,266.4 598.5,267.1 601.5,267.7 604.5,268.4 607.5,269 610.5,269.7 613.5,270.4 616.5,271.2 619.5,271.9 622.5,272.7 625.5,273.4 628.5,274.2 631.5,275 634.5,275.8 637.5,276.6 640.5,277.5 643.5,278.3 646.5,279.2 649.5,280.1 652.5,281 655.5,281.9 658.5,282.8 661.5,283.7 664.5,284.7 667.5,285.6 670.5,286.6 673.5,287.6 676.5,288.6 679.5,289.6 682.5,290.6 685.5,291.6 688.5,292.6 691.5,293.6 694.5,294.7 697.5,295.7 700.5,296.8 703.5,297.9 706.5,298.9 709.5,300 712.5,301.1 715.5,302.2 718.5,303.3 721.5,304.4 724.5,305.5 727.5,306.6 730.5,307.7 733.5,308.8" fill="none" stroke="#000" stroke-width="3" stroke-linejoin="round"/>
<g clip-path="url(#cp)"><polyline points="28.5,462.8 34,505.4 39.5,496.5 45,398.9 50.5,346.2 56,332 61.5,329.8 67,350.7 72.5,415.7 78,464.6 83.5,431.4 89,456.1 94.5,505.4 99.9,379.8 105.4,528.1 110.9,446 116.4,428 121.9,498.7 127.4,554.3 132.9,557.5 138.4,509.9 143.9,461.5 149.4,525.6 154.9,561.1 160.4,558.8 165.9,474 171.4,352.2 176.9,491.3 182.4,510.4 187.9,529.4 193.4,485.2 198.9,369.1 204.4,427.8 209.8,400 215.3,384.3 220.8,245.9 226.3,207.1 231.8,194.5 237.3,304.9 242.8,341.2 248.3,343 253.8,380.9 259.3,253.8 264.8,305.8 270.3,269.5 275.8,298.2 281.3,155.1 286.8,135.8 292.3,254.2 297.8,299.1 303.3,389.9 308.8,402.9 314.3,377.4 319.8,402.2 325.2,427.1 330.7,406.1 336.2,363.4 341.7,327.1 347.2,449.1 352.7,441.1 358.2,266.5 363.7,204.4 369.2,211.1 374.7,352 380.2,367.5 385.7,249.7 391.2,180.2 396.7,167 402.2,157.1 407.7,142.3 413.2,157.1 418.7,216.1 424.2,194.8 429.7,206.4 435.1,184 440.6,160.9 446.1,149.9 451.6,128.4 457.1,170.5 462.6,170.5" fill="none" stroke="#000" stroke-width="2" stroke-linejoin="round"/></g>
<rect x="295.5" y="88.5" width="224" height="27" fill="#fff" stroke="#000" stroke-width="1"/>
<text class="nm" x="302.1" y="106.8" textLength="66.1" lengthAdjust="spacingAndGlyphs">Normale</text>
<text class="nm" x="378.2" y="106.8" textLength="18.8" lengthAdjust="spacingAndGlyphs">du</text>
<text class="nm" x="404" y="106.8" textLength="33.6" lengthAdjust="spacingAndGlyphs">jour</text>
<text class="nm" x="459.1" y="106.8" textLength="50" lengthAdjust="spacingAndGlyphs">24,3°C</text>
<text class="nm" x="444.6" y="106.8" style="stroke-width:0.4px">:</text>
<rect x="241.5" y="4.5" width="326" height="48" fill="#fff" stroke="#000" stroke-width="1"/>
<text class="tt" x="250.6" y="24.7" textLength="119.2" lengthAdjust="spacingAndGlyphs">TEMPERATURES</text>
<text class="tt" x="377.2" y="24.7" textLength="84.4" lengthAdjust="spacingAndGlyphs">MAXIMALES</text>
<text class="tt" x="470.8" y="24.7" textLength="87.7" lengthAdjust="spacingAndGlyphs">OBSERVEES</text>
<text class="tt" x="287.2" y="43.9" textLength="42.6" lengthAdjust="spacingAndGlyphs">POUR</text>
<text class="tt" x="337" y="43.9" textLength="17.3" lengthAdjust="spacingAndGlyphs">LA</text>
<text class="tt" x="363.1" y="43.9" textLength="62.8" lengthAdjust="spacingAndGlyphs">STATION</text>
<text class="tt" x="433.3" y="43.9" textLength="20.4" lengthAdjust="spacingAndGlyphs">DE</text>
<text class="tt" x="461.6" y="43.9" textLength="59.9" lengthAdjust="spacingAndGlyphs">GUERET</text>
<text class="ax" x="24" y="578.1" text-anchor="end">10</text>
<text class="ax" x="24" y="555.7" text-anchor="end">11</text>
<text class="ax" x="24" y="533.2" text-anchor="end">12</text>
<text class="ax" x="24" y="510.8" text-anchor="end">13</text>
<text class="ax" x="24" y="488.4" text-anchor="end">14</text>
<text class="ax" x="24" y="466" text-anchor="end">15</text>
<text class="ax" x="24" y="443.6" text-anchor="end">16</text>
<text class="ax" x="24" y="421.2" text-anchor="end">17</text>
<text class="ax" x="24" y="398.8" text-anchor="end">18</text>
<text class="ax" x="24" y="376.4" text-anchor="end">19</text>
<text class="ax" x="24" y="353.9" text-anchor="end">20</text>
<text class="ax" x="24" y="331.5" text-anchor="end">21</text>
<text class="ax" x="24" y="309.1" text-anchor="end">22</text>
<text class="ax" x="24" y="286.7" text-anchor="end">23</text>
<text class="ax" x="24" y="264.3" text-anchor="end">24</text>
<text class="ax" x="24" y="241.9" text-anchor="end">25</text>
<text class="ax" x="24" y="219.5" text-anchor="end">26</text>
<text class="ax" x="24" y="197.1" text-anchor="end">27</text>
<text class="ax" x="24" y="174.6" text-anchor="end">28</text>
<text class="ax" x="24" y="152.2" text-anchor="end">29</text>
<text class="ax" x="24" y="129.8" text-anchor="end">30</text>
<text class="ax" x="24" y="107.4" text-anchor="end">31</text>
<text class="ax" x="24" y="85" text-anchor="end">32</text>
<text class="xl" transform="translate(48.1,589.2) rotate(-90)" text-anchor="end">Sa 04/05</text>
<text class="xl" transform="translate(70.1,589.2) rotate(-90)" text-anchor="end">Me 08/05</text>
<text class="xl" transform="translate(92.1,589.2) rotate(-90)" text-anchor="end">Di 12/05</text>
<text class="xl" transform="translate(114.1,589.2) rotate(-90)" text-anchor="end">Je 16/05</text>
<text class="xl" transform="translate(136.1,589.2) rotate(-90)" text-anchor="end">Lu 20/05</text>
<text class="xl" transform="translate(158.1,589.2) rotate(-90)" text-anchor="end">Ve 24/05</text>
<text class="xl" transform="translate(180.1,589.2) rotate(-90)" text-anchor="end">Ma 28/05</text>
<text class="xl" transform="translate(202.1,589.2) rotate(-90)" text-anchor="end">Sa 01/06</text>
<text class="xl" transform="translate(223.1,589.2) rotate(-90)" text-anchor="end">Me 05/06</text>
<text class="xl" transform="translate(245.1,589.2) rotate(-90)" text-anchor="end">Di 09/06</text>
<text class="xl" transform="translate(267.1,589.2) rotate(-90)" text-anchor="end">Je 13/06</text>
<text class="xl" transform="translate(289.1,589.2) rotate(-90)" text-anchor="end">Lu 17/06</text>
<text class="xl" transform="translate(311.1,589.2) rotate(-90)" text-anchor="end">Ve 21/06</text>
<text class="xl" transform="translate(333.1,589.2) rotate(-90)" text-anchor="end">Ma 25/06</text>
<text class="xl" transform="translate(355.1,589.2) rotate(-90)" text-anchor="end">Sa 29/06</text>
<text class="xl" transform="translate(377.1,589.2) rotate(-90)" text-anchor="end">Me 03/07</text>
<text class="xl" transform="translate(399.1,589.2) rotate(-90)" text-anchor="end">Di 07/07</text>
<text class="xl" transform="translate(421.1,589.2) rotate(-90)" text-anchor="end">Je 11/07</text>
<text class="xl" transform="translate(443.1,589.2) rotate(-90)" text-anchor="end">Lu 15/07</text>
<text class="xl" transform="translate(465.1,589.2) rotate(-90)" text-anchor="end">Ve 19/07</text>
<text class="xl" transform="translate(487.1,589.2) rotate(-90)" text-anchor="end">Ma 23/07</text>
<text class="xl" transform="translate(509.1,589.2) rotate(-90)" text-anchor="end">Sa 27/07</text>
<text class="xl" transform="translate(531.1,589.2) rotate(-90)" text-anchor="end">Me 31/07</text>
<text class="xl" transform="translate(553.1,589.2) rotate(-90)" text-anchor="end">Di 04/08</text>
<text class="xl" transform="translate(575.1,589.2) rotate(-90)" text-anchor="end">Je 08/08</text>
<text class="xl" transform="translate(597.1,589.2) rotate(-90)" text-anchor="end">Lu 12/08</text>
<text class="xl" transform="translate(619.1,589.2) rotate(-90)" text-anchor="end">Ve 16/08</text>
<text class="xl" transform="translate(641.1,589.2) rotate(-90)" text-anchor="end">Ma 20/08</text>
<text class="xl" transform="translate(663.1,589.2) rotate(-90)" text-anchor="end">Sa 24/08</text>
<text class="xl" transform="translate(685.1,589.2) rotate(-90)" text-anchor="end">Me 28/08</text>
<text class="xl" transform="translate(707.1,589.2) rotate(-90)" text-anchor="end">Di 01/09</text>
<text class="xl" transform="translate(729.1,589.2) rotate(-90)" text-anchor="end">Je 05/09</text>
<rect x="0" y="662.6" width="730" height="1.4" fill="#000"/>
</svg></body></html>
